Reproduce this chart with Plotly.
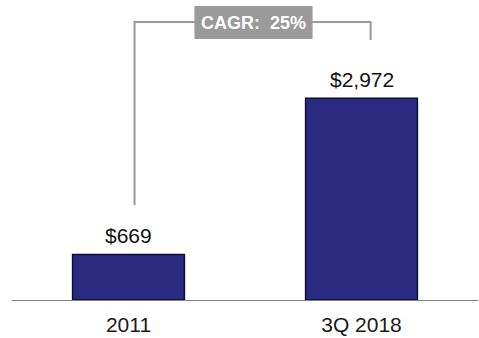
import plotly.graph_objects as go

# Data
periods = ["2011", "3Q 2018"]
values = [669, 2972]
value_labels = ["$669", "$2,972"]
cagr_label = "CAGR:  25%"

BAR_FILL = "#2a2a80"
BAR_EDGE = "#0e0e33"
GRAY = "#999999"
FONT = "Liberation Sans, Arial, sans-serif"

fig = go.Figure()

fig.add_trace(go.Bar(
    x=periods,
    y=values,
    width=0.48,
    marker=dict(color=BAR_FILL, line=dict(color=BAR_EDGE, width=1.5)),
    hoverinfo="skip",
))

# Value labels above each bar (positioned by category index)
for i, (v, t) in enumerate(zip(values, value_labels)):
    fig.add_annotation(
        x=i, y=v, text=t, showarrow=False,
        yanchor="middle", yshift=19,
        font=dict(family=FONT, size=21, color="#111111"),
    )

# CAGR bracket connecting the two bars
y_top = 4096
fig.add_shape(
    type="path",
    path=f"M 0.026 1400 L 0.026 {y_top} L 1.039 {y_top} L 1.039 3830",
    line=dict(color=GRAY, width=2),
    layer="above",
)
fig.add_shape(
    type="rect", x0=0.283, x1=0.790, y0=3845, y1=4331,
    fillcolor="#9a9a9a", line=dict(width=0), layer="above",
)
fig.add_annotation(
    x=0.5365, y=(3845 + 4331) / 2, text=f"<b>{cagr_label}</b>",
    showarrow=False, yanchor="middle",
    font=dict(family=FONT, size=18, color="white"),
)

fig.update_layout(
    width=479, height=338,
    margin=dict(l=12, r=1, t=0, b=38),
    paper_bgcolor="white", plot_bgcolor="white",
    showlegend=False,
    xaxis=dict(
        type="category", range=[-0.5, 1.5],
        showline=True, linecolor="#808080", linewidth=1,
        showgrid=False, ticks="", ticklabelstandoff=6,
        tickfont=dict(family=FONT, size=21, color="#1a1a1a"),
    ),
    yaxis=dict(
        range=[0, 4420], visible=False, showgrid=False, zeroline=False,
    ),
)

fig.write_html("out.html")
